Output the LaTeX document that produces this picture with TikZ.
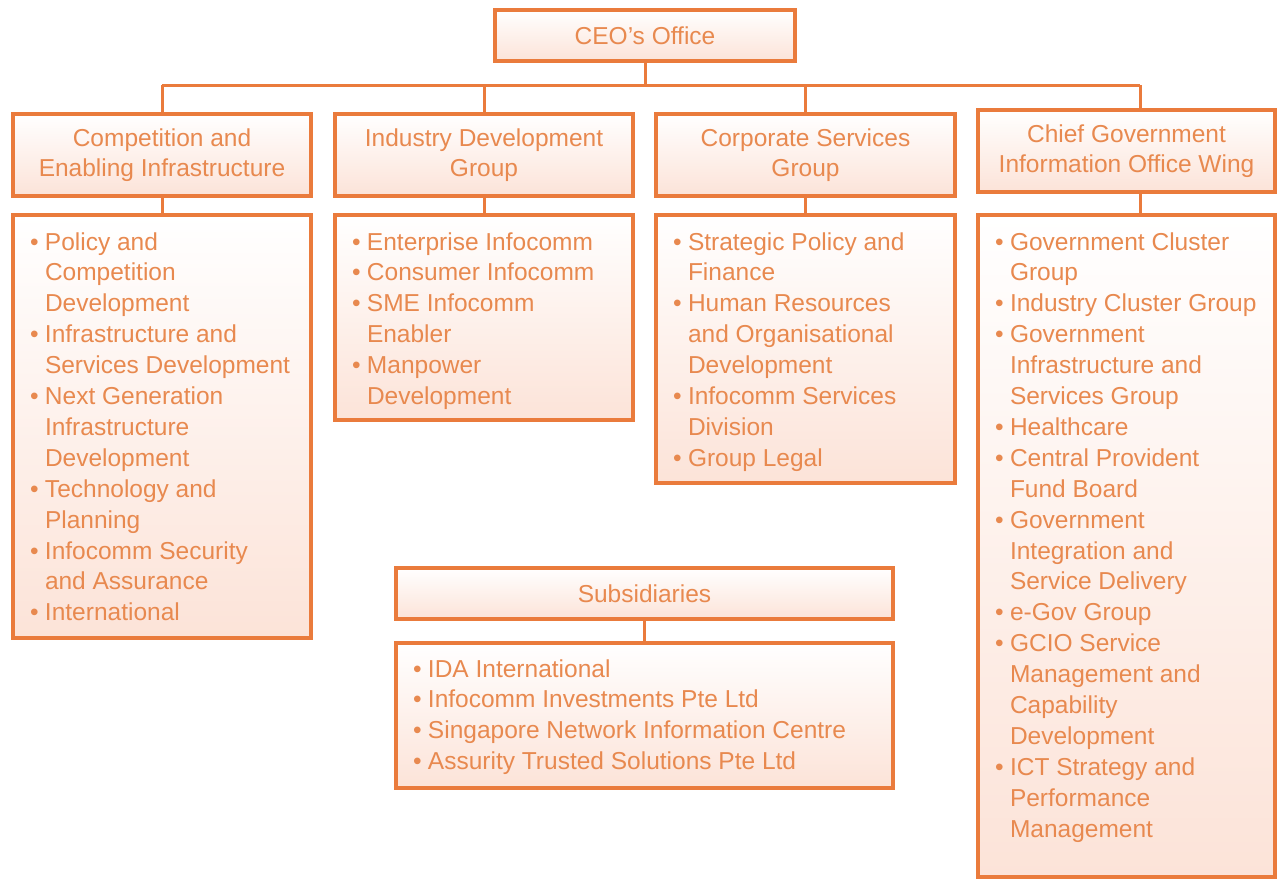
\documentclass[tikz,border=0pt]{standalone}
\usepackage{fontspec}
\setmainfont{Liberation Sans}
\usetikzlibrary{shadows}
\definecolor{obrd}{HTML}{EA7B3C}
\definecolor{otxt}{HTML}{E8894F}
\definecolor{ofill}{HTML}{FCE3D8}
\newcommand{\itm}{\hspace*{17pt}\makebox[15pt][l]{•}\strut}
\newcommand{\cnt}{\hspace*{32pt}\strut}
\newcommand{\firstl}{\rule{0pt}{35pt}}
\begin{document}
\begin{tikzpicture}[x=1pt,y=-1pt,
  font=\fontsize{24.5}{30.9}\selectfont,
  box/.style={draw=obrd, line width=3.5pt, top color=white, bottom color=ofill,
    text=otxt, inner sep=0pt, outer sep=0pt,
    drop shadow={opacity=0.12, shadow xshift=1.5pt, shadow yshift=-1.5pt}},
  head/.style={box, align=center, font=\fontsize{24.5}{30}\selectfont},
  lst/.style={box, anchor=north west},
  link/.style={draw=obrd, line width=3pt}]
\useasboundingbox[fill=white] (0,0) rectangle (1277,886);

% headers
\node[head, minimum width=300pt, minimum height=51pt] (ceo) at (645,35.5) {CEO’s Office};
\node[head, minimum width=298pt, minimum height=82pt] (h1) at (162,155) {Competition and\\Enabling Infrastructure};
\node[head, minimum width=298pt, minimum height=82pt] (h2) at (484,155) {Industry Development\\Group};
\node[head, minimum width=299pt, minimum height=82pt] (h3) at (805.5,155) {Corporate Services\\Group};
\node[head, minimum width=297pt, minimum height=82pt] (h4) at (1126.5,151) {Chief Government\\Information Office Wing};
\node[head, minimum width=497pt, minimum height=51pt] (sub) at (644.5,593.5) {Subsidiaries};

% lists
\node[lst] (l1) at (13,215) {\parbox[c][423pt][t]{298pt}{\firstl
\itm Policy and\\
\cnt Competition\\
\cnt Development\\
\itm Infrastructure and\\
\cnt Services Development\\
\itm Next Generation\\
\cnt Infrastructure\\
\cnt Development\\
\itm Technology and\\
\cnt Planning\\
\itm Infocomm Security\\
\cnt and Assurance\\
\itm International}};

\node[lst] (l2) at (335,215) {\parbox[c][205pt][t]{298pt}{\firstl
\itm Enterprise Infocomm\\
\itm Consumer Infocomm\\
\itm SME Infocomm\\
\cnt Enabler\\
\itm Manpower\\
\cnt Development}};

\node[lst] (l3) at (656,215) {\parbox[c][268pt][t]{299pt}{\firstl
\itm Strategic Policy and\\
\cnt Finance\\
\itm Human Resources\\
\cnt and Organisational\\
\cnt Development\\
\itm Infocomm Services\\
\cnt Division\\
\itm Group Legal}};

\node[lst] (l4) at (978,215) {\parbox[c][662pt][t]{297pt}{\firstl
\itm Government Cluster\\
\cnt Group\\
\itm Industry Cluster Group\\
\itm Government\\
\cnt Infrastructure and\\
\cnt Services Group\\
\itm Healthcare\\
\itm Central Provident\\
\cnt Fund Board\\
\itm Government\\
\cnt Integration and\\
\cnt Service Delivery\\
\itm e-Gov Group\\
\itm GCIO Service\\
\cnt Management and\\
\cnt Capability\\
\cnt Development\\
\itm ICT Strategy and\\
\cnt Performance\\
\cnt Management}};

\node[lst] (sl) at (396,643) {\parbox[c][145pt][t]{497pt}{\rule{0pt}{34pt}%
\itm IDA International\\
\itm Infocomm Investments Pte Ltd\\
\itm Singapore Network Information Centre\\
\itm Assurity Trusted Solutions Pte Ltd}};

% connectors
\coordinate (busL) at (162,85);
\coordinate (busR) at (1140,85);
\draw[link] (ceo.south) -- (ceo.south |- busL);
\draw[link] (busL) -- (busR);
\draw[link] (busL) -- (h1.north);
\draw[link] (h2.north |- busL) -- (h2.north);
\draw[link] (h3.north |- busL) -- (h3.north);
\draw[link] (busR) -- (busR |- h4.north);
\draw[link] (h1.south) -- (h1.south |- l1.north);
\draw[link] (h2.south) -- (h2.south |- l2.north);
\draw[link] (h3.south) -- (h3.south |- l3.north);
\draw[link] (h4.south -| busR) -- (l4.north -| busR);
\draw[link] (sub.south) -- (sub.south |- sl.north);
\end{tikzpicture}
\end{document}
